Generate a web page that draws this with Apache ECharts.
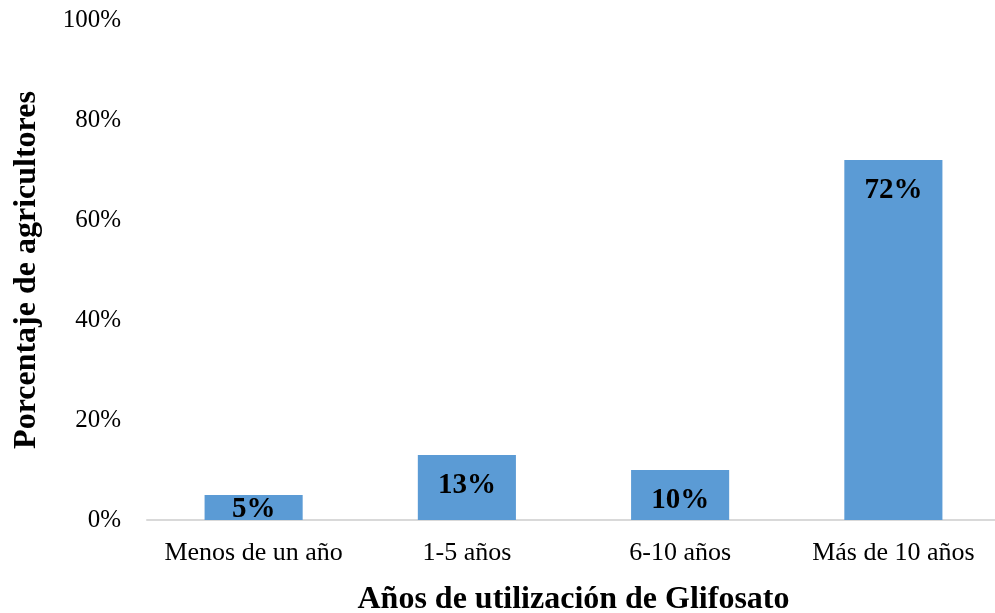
<!DOCTYPE html>
<html>
<head>
<meta charset="utf-8">
<script src="https://cdn.jsdelivr.net/npm/echarts@6/dist/echarts.min.js"></script>
<style>
  html, body { margin: 0; padding: 0; background: #fff; }
  #main { width: 995px; height: 613px; }
</style>
</head>
<body>
<div id="main"></div>
<script>
// datos del gráfico
var categorias = ['Menos de un año', '1-5 años', '6-10 años', 'Más de 10 años'];
var porcentajes = [5, 13, 10, 72];
var ticksY = [0, 20, 40, 60, 80, 100];

var fuente = '"Liberation Serif", "Times New Roman", serif';

// barras muy bajas: la etiqueta se pega arriba para que quepa
var datosBarras = porcentajes.map(function (v) {
    return v < 8 ? { value: v, label: { distance: 0 } } : v;
});

var chart = echarts.init(document.getElementById('main'));
var option = {
    animation: false,
    backgroundColor: '#fff',
    grid: { left: 147, top: 20, width: 853, height: 500, containLabel: false, outerBoundsMode: 'none' },
    xAxis: {
        type: 'category',
        data: categorias,
        name: 'Años de utilización de Glifosato',
        nameLocation: 'middle',
        nameGap: 64,
        nameTextStyle: { fontFamily: fuente, fontSize: 32, fontWeight: 'bold', color: '#000' },
        axisLine: { lineStyle: { color: '#d9d9d9', width: 2 } },
        axisTick: { show: false },
        axisLabel: { interval: 0, fontFamily: fuente, fontSize: 26, color: '#000', margin: 20 }
    },
    yAxis: {
        type: 'value',
        min: ticksY[0],
        max: ticksY[ticksY.length - 1],
        interval: 20,
        name: 'Porcentaje de agricultores',
        nameLocation: 'middle',
        nameGap: 104,
        nameTextStyle: { fontFamily: fuente, fontSize: 32, fontWeight: 'bold', color: '#000' },
        axisLine: { show: false },
        axisTick: { show: false },
        splitLine: { show: false },
        axisLabel: {
            fontFamily: fuente, fontSize: 25, color: '#000', margin: 26,
            formatter: function (v) { return v + '%'; }
        }
    },
    series: [{
        type: 'bar',
        data: datosBarras,
        barWidth: '46%',
        itemStyle: { color: '#5b9bd5' },
        label: {
            show: true,
            position: 'insideTop',
            distance: 16,
            fontFamily: fuente,
            fontSize: 29,
            fontWeight: 'bold',
            color: '#000',
            formatter: '{c}%'
        }
    }]
};
chart.setOption(option);
</script>
</body>
</html>
